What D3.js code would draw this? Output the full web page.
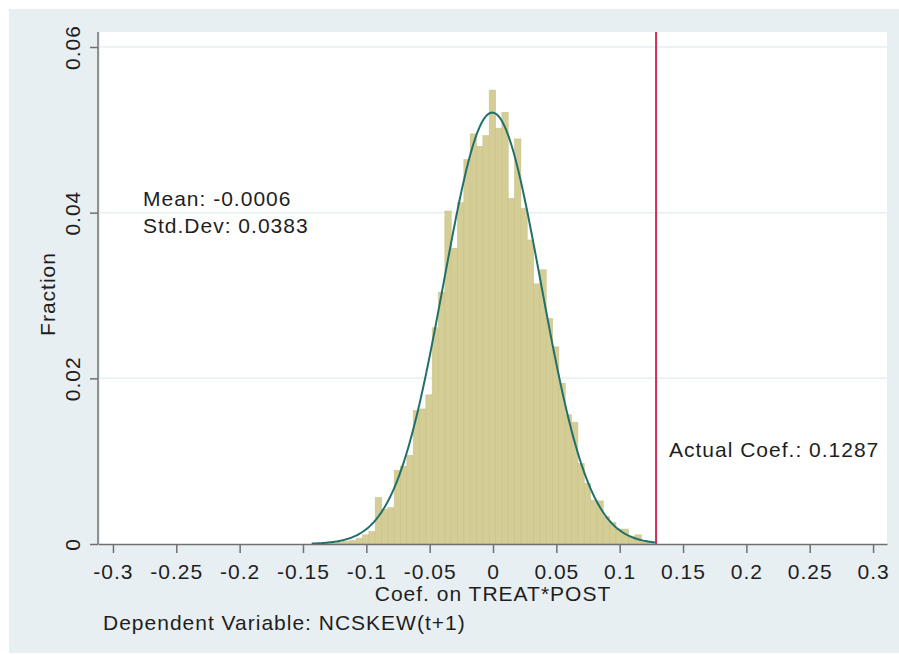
<!DOCTYPE html>
<html lang="en">
<head>
<meta charset="UTF-8">
<title>Permutation distribution</title>
<script src="https://cdn.jsdelivr.net/npm/d3@7"></script>
<style>
    *{margin:0;padding:0}
    body{background:#fff}
    svg text{font-family:Arial,"Liberation Sans",sans-serif;fill:#1e1e1e;letter-spacing:1px}
</style>
</head>
<body>
<div id="chart"></div>
<script>
    // x ticks
    var xTicks = [-0.3,-0.25,-0.2,-0.15,-0.1,-0.05,0,0.05,0.1,0.15,0.2,0.25,0.3];
    var xTickLabels = ["-0.3","-0.25","-0.2","-0.15","-0.1","-0.05","0","0.05","0.1","0.15","0.2","0.25","0.3"];
    // y ticks
    var yTicks = [0,0.02,0.04,0.06];
    var yTickLabels = ["0","0.02","0.04","0.06"];

    // histogram: bins start at data min, width 0.005
    var binStart = -0.143, binWidth = 0.005;
    var fractions = [
        0.0001,0.0000,0.0001,0.0001,0.0002,0.0003,0.0004,0.0007,0.0011,0.0015,
        0.0056,0.0042,0.0044,0.0089,0.0094,0.0107,0.0161,0.0163,0.0180,0.0261,
        0.0304,0.0402,0.0357,0.0412,0.0464,0.0495,0.0480,0.0493,0.0548,0.0502,
        0.0521,0.0417,0.0489,0.0405,0.0367,0.0314,0.0331,0.0272,0.0238,0.0194,
        0.0156,0.0147,0.0097,0.0073,0.0053,0.0052,0.0033,0.0026,0.0018,0.0018,
        0.0009,0.0011,0.0003,0.0002
    ];
    var dataMin = -0.143, dataMax = 0.1287;
    var meanCoef = -0.0006, sdCoef = 0.0383, actualCoef = 0.1287;

    var W = 899, H = 655;
    var svg = d3.select("#chart").append("svg").attr("width", W).attr("height", H);

    // outer background + plot region
    svg.append("rect").attr("x",9).attr("y",9).attr("width",W-9).attr("height",644).attr("fill","#e8eff2");
    svg.append("rect").attr("x",100).attr("y",32).attr("width",787).attr("height",512).attr("fill","#fff");

    var x = d3.scaleLinear().domain([-0.3118, 0.311]).range([98, 887]);
    var y = d3.scaleLinear().domain([0, 0.06]).range([544, 47]);

    // grid lines
    svg.append("g").selectAll("line")
        .data(yTicks.slice(1))
        .enter().append("line")
        .attr("x1",100).attr("x2",887)
        .attr("y1",function(d){return y(d);}).attr("y2",function(d){return y(d);})
        .attr("stroke","#e6eff2").attr("stroke-width",1.5);

    // bars
    svg.append("g").selectAll("rect")
        .data(fractions)
        .enter().append("rect")
        .attr("x",function(d,i){return x(binStart + i*binWidth);})
        .attr("width",x(binWidth) - x(0))
        .attr("y",function(d){return y(d);})
        .attr("height",function(d){return y(0) - y(d);})
        .attr("fill","#d4ce96")
        .attr("stroke","#c8c289")
        .attr("stroke-width",0.6);

    // normal curve scaled to bin fraction
    var pts = d3.range(0, 301).map(function(k){
        var v = dataMin + (dataMax - dataMin)*k/300;
        var z = (v - meanCoef)/sdCoef;
        return [v, binWidth*Math.exp(-0.5*z*z)/(sdCoef*Math.sqrt(2*Math.PI))];
    });
    svg.append("path")
        .datum(pts)
        .attr("fill","none")
        .attr("stroke","#236f69")
        .attr("stroke-width",2)
        .attr("d",d3.line().x(function(d){return x(d[0]);}).y(function(d){return y(d[1]);}));

    // actual coefficient line
    svg.append("line")
        .attr("x1",x(actualCoef)).attr("x2",x(actualCoef))
        .attr("y1",32).attr("y2",544)
        .attr("stroke","#d32f5b").attr("stroke-width",2);

    // x axis
    var gx = svg.append("g").attr("transform","translate(0,544)")
        .call(d3.axisBottom(x).tickValues(xTicks)
            .tickFormat(function(d,i){return xTickLabels[i];})
            .tickSize(9).tickSizeOuter(0));
    gx.select(".domain").attr("stroke","#707070").attr("stroke-width",1.5);
    gx.selectAll(".tick line").attr("stroke","#707070").attr("stroke-width",1.5);
    gx.selectAll("text").attr("y",35).attr("dy",0).attr("font-size",21).attr("fill","#1e1e1e");

    // y axis
    var gy = svg.append("g").attr("transform","translate(98,0)")
        .call(d3.axisLeft(y).tickValues(yTicks)
            .tickFormat(function(d,i){return yTickLabels[i];})
            .tickSize(8).tickSizeOuter(0));
    gy.select(".domain").remove();
    gy.append("line").attr("x1",0).attr("x2",0).attr("y1",32).attr("y2",544)
        .attr("stroke","#707070").attr("stroke-width",1.5);
    gy.selectAll(".tick line").attr("stroke","#707070").attr("stroke-width",1.5);
    gy.selectAll("text")
        .attr("x",0).attr("y",0).attr("dy",0)
        .attr("transform","translate(-18,0) rotate(-90)")
        .attr("text-anchor","middle")
        .attr("font-size",21).attr("fill","#1e1e1e");

    // titles
    svg.append("text").attr("transform","translate(55,294) rotate(-90)")
        .attr("text-anchor","middle").attr("font-size",21).text("Fraction");
    svg.append("text").attr("x",x(0)).attr("y",601)
        .attr("text-anchor","middle").attr("font-size",21).text("Coef. on TREAT*POST");
    svg.append("text").attr("x",103).attr("y",630)
        .attr("font-size",21).text("Dependent Variable: NCSKEW(t+1)");

    // annotations
    svg.append("text").attr("x",143).attr("y",206).attr("font-size",21)
        .text("Mean: " + meanCoef.toFixed(4));
    svg.append("text").attr("x",143).attr("y",233).attr("font-size",21)
        .text("Std.Dev: " + sdCoef.toFixed(4));
    svg.append("text").attr("x",669).attr("y",457).attr("font-size",21)
        .text("Actual Coef.: " + actualCoef.toFixed(4));
</script>
</body>
</html>
